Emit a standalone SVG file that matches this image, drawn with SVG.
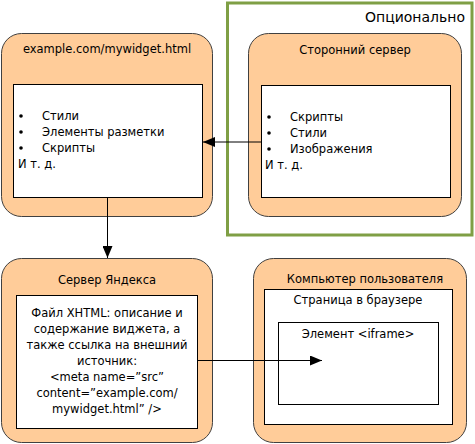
<svg xmlns="http://www.w3.org/2000/svg" width="475" height="444" viewBox="0 0 475 444">
<defs>
<style>
.outer{fill:#FFCC99;stroke:#404040;stroke-width:1}
.inner{fill:#fff;stroke:#000;stroke-width:1}
.t{font-family:"DejaVu Sans","Verdana",sans-serif;font-size:11.5px;fill:#000}
.c{text-anchor:middle}
.conn{stroke:#000;stroke-width:1;fill:none}
</style>
<marker id="ah" viewBox="0 0 12 10" refX="12" refY="5" markerWidth="12" markerHeight="10" markerUnits="userSpaceOnUse" orient="auto">
<path d="M0,0 L12,5 L0,10 Z" fill="#000"/>
</marker>
</defs>
<rect width="475" height="444" fill="#fff"/>

<g id="optional">
<rect x="227.5" y="3" width="244.5" height="232" fill="none" stroke="#7F9F45" stroke-width="3"/>
<text x="465" y="22" class="t" style="font-size:14px;text-anchor:end">Опционально</text>
</g>

<g id="mywidget">
<rect class="outer" x="1.5" y="33.5" width="211" height="183" rx="20"/>
<rect class="inner" x="13.5" y="84.5" width="189" height="113"/>
<text x="107" y="53" class="t c">example.com/mywidget.html</text>
<g class="t">
<circle cx="21" cy="116" r="1.8"/><text x="42" y="120">Стили</text>
<circle cx="21" cy="132" r="1.8"/><text x="42" y="136">Элементы разметки</text>
<circle cx="21" cy="148" r="1.8"/><text x="42" y="152">Скрипты</text>
<text x="18" y="168">И т. д.</text>
</g>
</g>

<g id="thirdparty">
<rect class="outer" x="248.5" y="33.5" width="213" height="183" rx="20"/>
<rect class="inner" x="261.5" y="85.5" width="189" height="112"/>
<text x="355" y="54" class="t c">Сторонний сервер</text>
<g class="t">
<circle cx="269" cy="117" r="1.8"/><text x="290" y="121">Скрипты</text>
<circle cx="269" cy="133" r="1.8"/><text x="290" y="137">Стили</text>
<circle cx="269" cy="149" r="1.8"/><text x="290" y="153">Изображения</text>
<text x="265" y="169">И т. д.</text>
</g>
</g>

<g id="yandex">
<rect class="outer" x="1.5" y="258.5" width="211" height="184" rx="20"/>
<rect class="inner" x="16.5" y="295.5" width="181" height="133"/>
<text x="107" y="284" class="t c">Сервер Яндекса</text>
<g class="t c">
<text x="107" y="317">Файл XHTML: описание и</text>
<text x="107" y="333">содержание виджета, а</text>
<text x="107" y="349">также ссылка на внешний</text>
<text x="107" y="365">источник:</text>
<text x="107" y="381">&lt;meta name=”src”</text>
<text x="107" y="397">content=”example.com/</text>
<text x="107" y="413">mywidget.html” /&gt;</text>
</g>
</g>

<g id="usercomputer">
<rect class="outer" x="253.5" y="258.5" width="213" height="184" rx="20"/>
<rect class="inner" x="264.5" y="289.5" width="188" height="135"/>
<rect class="inner" x="278.5" y="322.5" width="160" height="82"/>
<text x="365" y="283" class="t c">Компьютер пользователя</text>
<text x="358" y="304" class="t c">Страница в браузере</text>
<text x="358" y="338" class="t c">Элемент &lt;iframe&gt;</text>
</g>

<g id="connectors">
<line class="conn" x1="261" y1="142" x2="203" y2="142" marker-end="url(#ah)"/>
<line class="conn" x1="107.5" y1="198" x2="107.5" y2="258" marker-end="url(#ah)"/>
<line class="conn" x1="198" y1="360.5" x2="322" y2="360.5" marker-end="url(#ah)"/>
</g>
</svg>
